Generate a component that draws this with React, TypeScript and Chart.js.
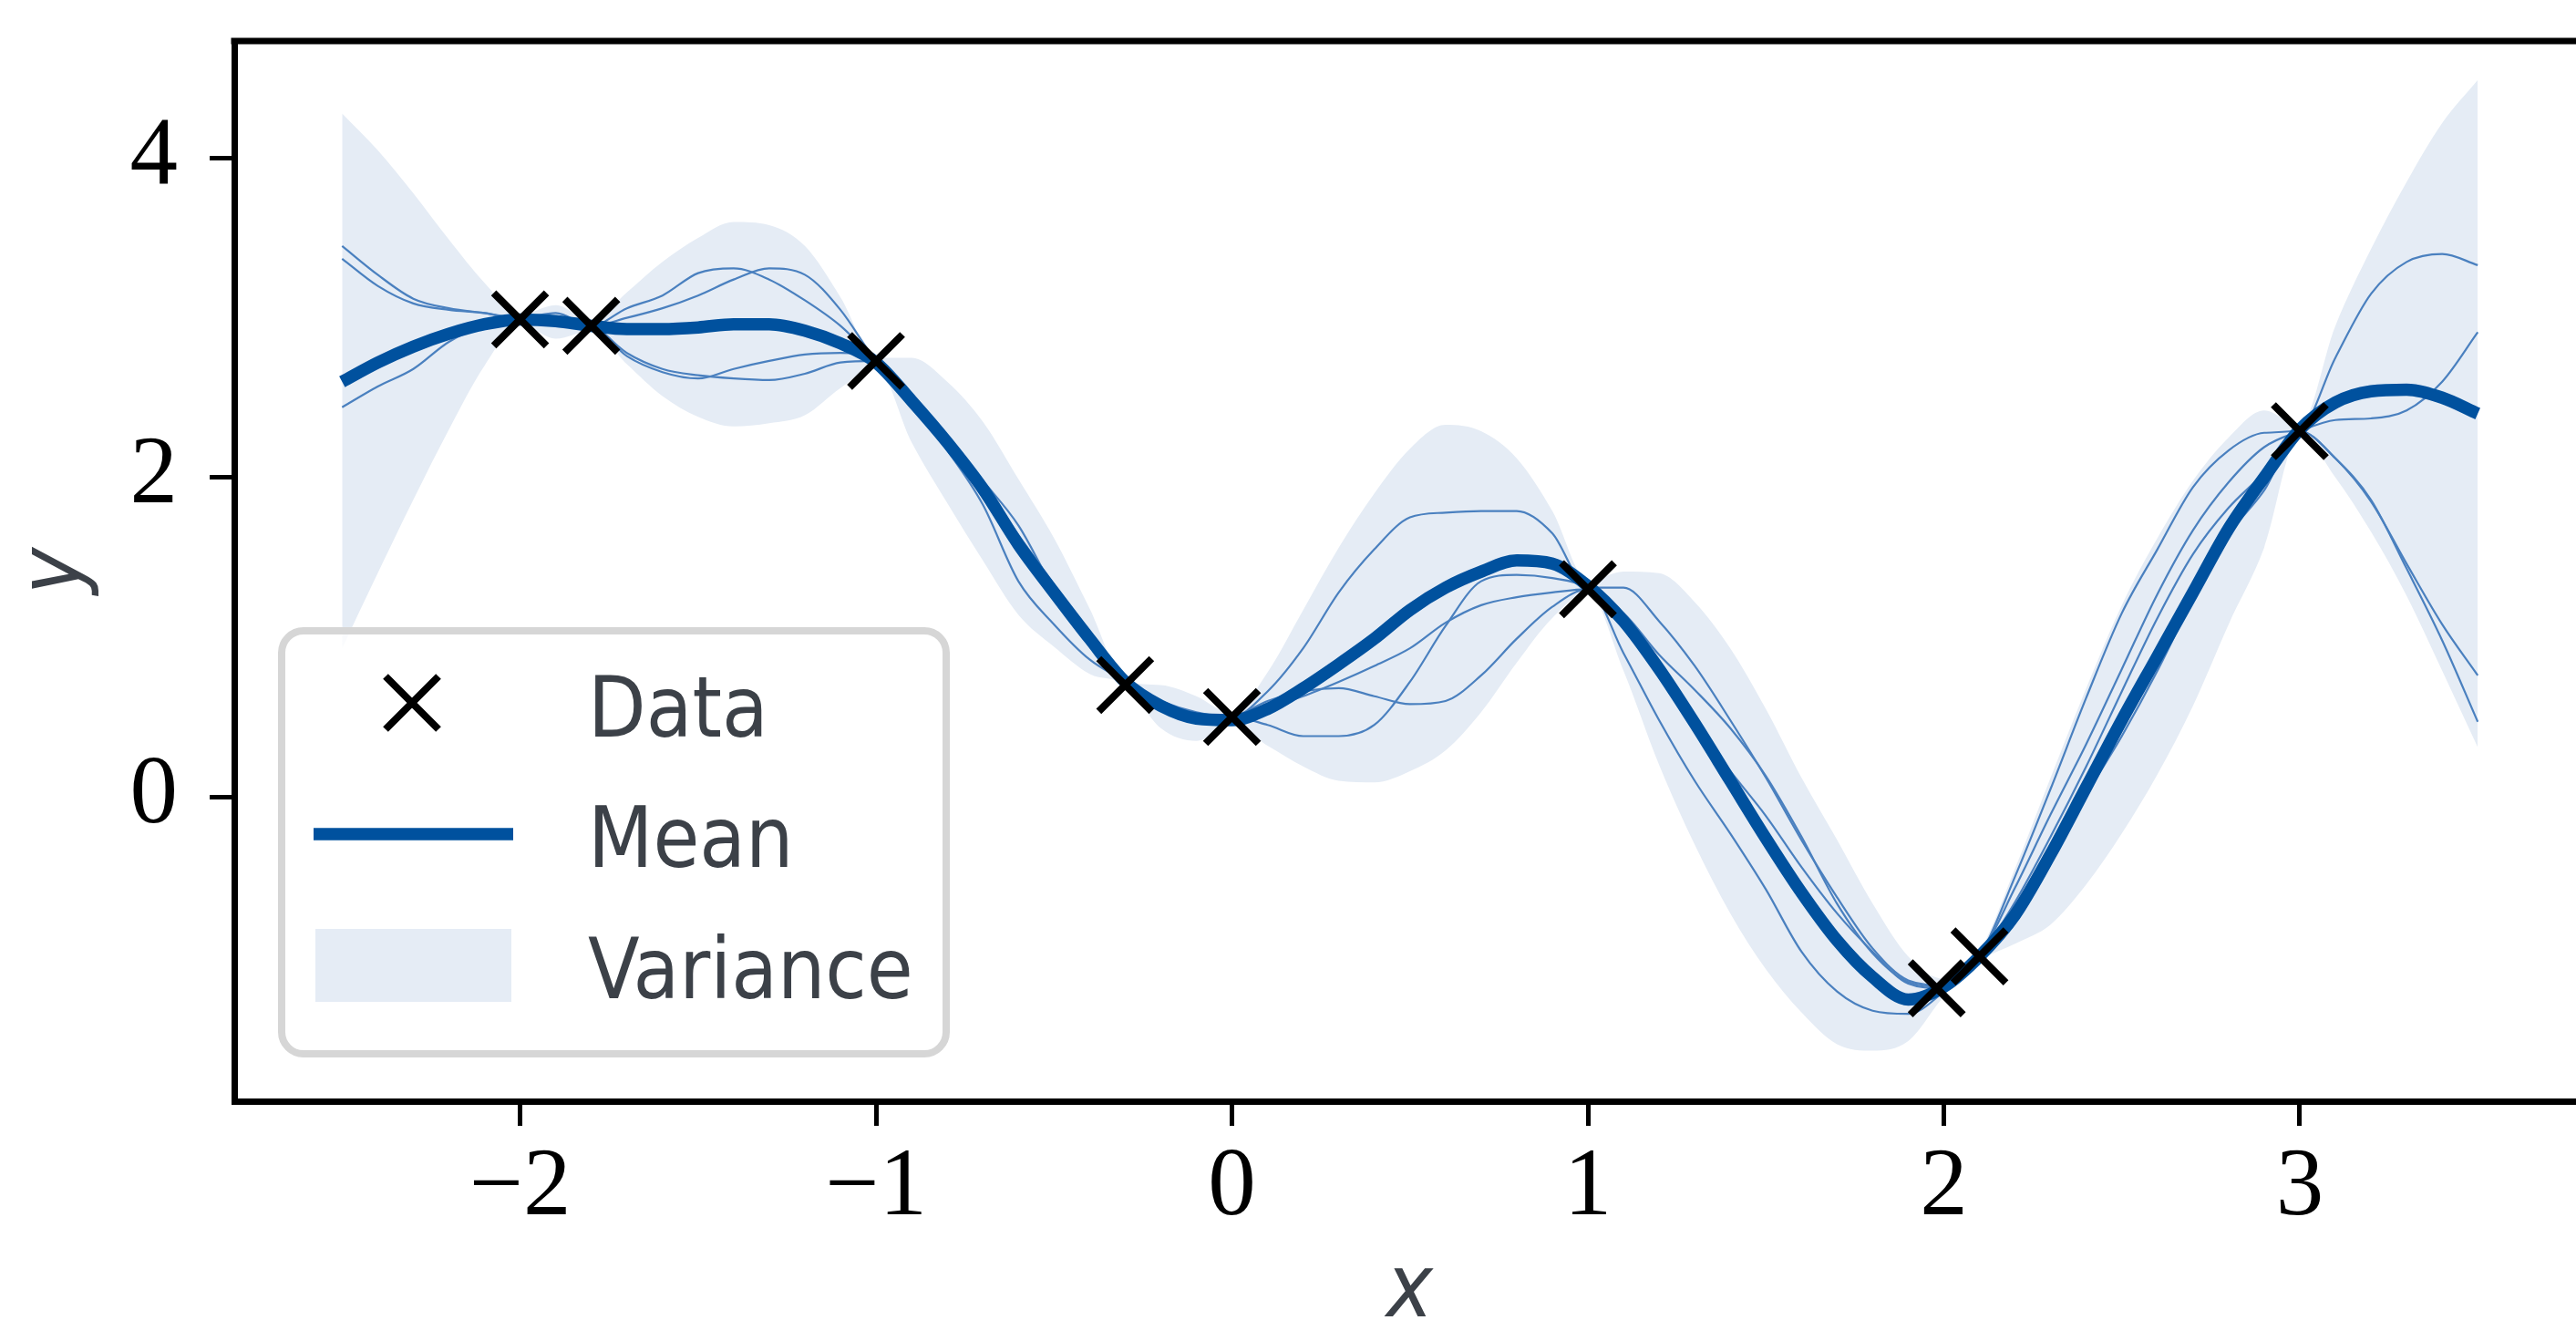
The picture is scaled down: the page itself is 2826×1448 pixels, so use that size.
import React, { useEffect, useRef } from 'react';
import { Chart, registerables } from 'chart.js';

Chart.register(...registerables);

// ---------------- data ----------------
const XS = [
  -2.5, -2.4, -2.3, -2.2, -2.1, -2.0, -1.9, -1.8, -1.7, -1.6, -1.5, -1.4, -1.3, -1.2, -1.1, -1.0,
  -0.9, -0.8, -0.7, -0.6, -0.5, -0.4, -0.3, -0.2, -0.1, 0.0, 0.1, 0.2, 0.3, 0.4, 0.5, 0.6, 0.7,
  0.8, 0.9, 1.0, 1.1, 1.2, 1.3, 1.4, 1.5, 1.6, 1.7, 1.8, 1.9, 2.0, 2.1, 2.2, 2.3, 2.4, 2.5, 2.6,
  2.7, 2.8, 2.9, 3.0, 3.1, 3.2, 3.3, 3.4, 3.5,
];

const MEAN = [
  2.60, 2.72, 2.82, 2.90, 2.96, 2.99, 2.98, 2.95, 2.93, 2.93, 2.94, 2.96, 2.96, 2.92, 2.84, 2.72,
  2.48, 2.22, 1.93, 1.58, 1.28, 0.99, 0.72, 0.57, 0.49, 0.48, 0.55, 0.68, 0.83, 0.99, 1.17, 1.31, 1.41,
  1.48, 1.46, 1.32, 1.10, 0.80, 0.46, 0.10, -0.26, -0.60, -0.90, -1.13, -1.27, -1.19, -1.00, -0.74, -0.36, 0.06, 0.48, 0.88,
  1.28, 1.68, 2.00, 2.30, 2.47, 2.54, 2.55, 2.50, 2.40,
];

const UPPER = [
  4.28, 4.05, 3.78, 3.49, 3.22, 3.02, 3.08, 2.98, 3.16, 3.35, 3.50, 3.60, 3.58, 3.45, 3.13, 2.75,
  2.75, 2.60, 2.35, 1.99, 1.62, 1.18, 0.73, 0.70, 0.63, 0.52, 0.78, 1.17, 1.56, 1.90, 2.18, 2.33, 2.29,
  2.12, 1.79, 1.35, 1.41, 1.40, 1.22, 0.93, 0.55, 0.12, -0.27, -0.67, -1.00, -1.14, -0.97, -0.45, 0.12, 0.68, 1.20, 1.62,
  1.98, 2.25, 2.42, 2.32, 2.95, 3.43, 3.85, 4.22, 4.49,
];

const LOWER = [
  0.93, 1.40, 1.86, 2.30, 2.70, 2.96, 2.87, 2.92, 2.71, 2.51, 2.38, 2.32, 2.34, 2.39, 2.56, 2.69,
  2.22, 1.84, 1.48, 1.14, 0.94, 0.77, 0.70, 0.43, 0.35, 0.45, 0.32, 0.19, 0.10, 0.09, 0.16, 0.29, 0.53,
  0.84, 1.12, 1.28, 0.79, 0.20, -0.30, -0.73, -1.08, -1.35, -1.55, -1.59, -1.53, -1.25, -1.03, -0.92, -0.80, -0.55, -0.23, 0.14,
  0.57, 1.08, 1.56, 2.27, 2.00, 1.66, 1.26, 0.79, 0.31,
];

const SAMPLE_1 = [
  3.45, 3.27, 3.12, 3.06, 3.03, 3.00, 3.03, 2.95, 3.06, 3.14, 3.28, 3.31, 3.24, 3.11, 2.95, 2.73,
  2.52, 2.25, 1.98, 1.70, 1.30, 0.98, 0.71, 0.60, 0.53, 0.50, 0.66, 0.93, 1.28, 1.55, 1.75, 1.78, 1.79,
  1.79, 1.65, 1.31, 1.31, 1.10, 0.82, 0.48, 0.12, -0.27, -0.63, -0.95, -1.15, -1.18, -1.00, -0.50, 0.05, 0.62, 1.15, 1.55,
  1.94, 2.17, 2.28, 2.30, 2.75, 3.15, 3.35, 3.40, 3.33,
];

const SAMPLE_2 = [
  3.37, 3.20, 3.09, 3.05, 3.03, 2.99, 2.99, 2.95, 3.00, 3.06, 3.14, 3.24, 3.31, 3.27, 3.05, 2.73,
  2.50, 2.22, 1.96, 1.64, 1.33, 1.00, 0.71, 0.58, 0.52, 0.50, 0.56, 0.63, 0.72, 0.82, 0.93, 1.09, 1.20,
  1.25, 1.28, 1.30, 1.15, 0.89, 0.67, 0.43, 0.13, -0.25, -0.67, -0.98, -1.16, -1.19, -1.00, -0.57, -0.11, 0.33, 0.80, 1.27,
  1.67, 1.97, 2.19, 2.29, 2.36, 2.37, 2.42, 2.60, 2.91,
];

const SAMPLE_3 = [
  2.44, 2.57, 2.68, 2.85, 2.95, 2.99, 2.96, 2.95, 2.76, 2.66, 2.62, 2.68, 2.73, 2.77, 2.78, 2.73,
  2.46, 2.17, 1.83, 1.35, 1.08, 0.86, 0.72, 0.56, 0.50, 0.50, 0.45, 0.38, 0.38, 0.45, 0.72, 1.07, 1.35,
  1.39, 1.37, 1.31, 1.12, 0.82, 0.45, 0.16, -0.12, -0.44, -0.73, -0.97, -1.17, -1.20, -1.00, -0.66, -0.25, 0.19, 0.66, 1.12,
  1.52, 1.81, 2.03, 2.29, 2.12, 1.85, 1.46, 1.08, 0.76,
];

const SAMPLE_4 = [
  2.61, 2.73, 2.83, 2.91, 2.96, 2.99, 2.97, 2.95, 2.78, 2.68, 2.64, 2.62, 2.61, 2.65, 2.72, 2.73,
  2.47, 2.20, 1.91, 1.57, 1.27, 0.98, 0.71, 0.57, 0.49, 0.50, 0.60, 0.66, 0.68, 0.63, 0.58, 0.60, 0.76,
  0.99, 1.19, 1.30, 0.90, 0.48, 0.10, -0.23, -0.58, -0.97, -1.22, -1.34, -1.36, -1.22, -1.00, -0.78, -0.42, 0.01, 0.38, 0.79,
  1.24, 1.64, 1.92, 2.29, 2.12, 1.86, 1.43, 0.98, 0.47,
];

const SAMPLES = [SAMPLE_1, SAMPLE_2, SAMPLE_3, SAMPLE_4];

const DATA_X = [-2.0, -1.8, -1.0, -0.3, 0.0, 1.0, 1.98, 2.1, 3.0];
const DATA_Y = [2.99, 2.95, 2.73, 0.70, 0.50, 1.30, -1.20, -1.00, 2.29];

const X_TICKS = [-2, -1, 0, 1, 2, 3];
const X_TICK_LABELS = ['\u22122', '\u22121', '0', '1', '2', '3'];
const Y_TICKS = [0, 2, 4];
const Y_TICK_LABELS = ['0', '2', '4'];

const LEGEND_LABELS = ['Data', 'Mean', 'Variance'];
const X_LABEL = 'x';
const Y_LABEL = 'y';

// ---------------- style ----------------
const W = 2826;
const H = 1448;
const X_MIN = -2.803;
const X_MAX = 3.776;
const X_FULL_MAX = 3.8;
const Y_MIN = -1.907;
const Y_MAX = 4.734;

const MEAN_COLOR = '#00519e';
const MEAN_W = 13.5;
const CROSS_W = 8;
const SAMPLE_COLOR = '#4a80bf';
const BAND_COLOR = '#e5ecf5';
const LABEL_COLOR = '#3c4148';
const SERIF = "'Liberation Serif', 'DejaVu Serif', serif";
const SANS = "'Liberation Sans Narrow', 'DejaVu Sans Condensed', 'Lato', sans-serif";
const SPINE_W = 7;

function roundRectPath(ctx: CanvasRenderingContext2D, x: number, y: number, w: number, h: number, r: number) {
  ctx.beginPath();
  ctx.moveTo(x + r, y);
  ctx.lineTo(x + w - r, y);
  ctx.arcTo(x + w, y, x + w, y + r, r);
  ctx.lineTo(x + w, y + h - r);
  ctx.arcTo(x + w, y + h, x + w - r, y + h, r);
  ctx.lineTo(x + r, y + h);
  ctx.arcTo(x, y + h, x, y + h - r, r);
  ctx.lineTo(x, y + r);
  ctx.arcTo(x, y, x + r, y, r);
  ctx.closePath();
}

const decorPlugin = {
  id: 'decor',
  afterDraw(chart: any) {
    const { ctx, chartArea: ca, scales } = chart;
    ctx.save();

    // top spine
    ctx.strokeStyle = '#000';
    ctx.lineWidth = SPINE_W;
    ctx.beginPath();
    ctx.moveTo(ca.left - SPINE_W / 2, ca.top);
    ctx.lineTo(ca.right, ca.top);
    ctx.stroke();

    // axis labels
    ctx.fillStyle = LABEL_COLOR;
    ctx.font = `italic 96px ${SANS}`;
    ctx.textAlign = 'center';
    ctx.textBaseline = 'alphabetic';
    const fullRight = scales.x.getPixelForValue(X_FULL_MAX);
    ctx.fillText(X_LABEL, (ca.left + fullRight) / 2, ca.bottom + 236);
    ctx.save();
    ctx.translate(ca.left - 169, (ca.top + ca.bottom) / 2);
    ctx.rotate(-Math.PI / 2);
    ctx.fillText(Y_LABEL, 0, 0);
    ctx.restore();

    // legend
    const bw = 729;
    const bh = 464;
    const bx = ca.left + 52;
    const by = ca.bottom - 52 - bh;
    roundRectPath(ctx, bx, by, bw, bh, 24);
    ctx.fillStyle = 'rgba(255,255,255,0.8)';
    ctx.fill();
    ctx.strokeStyle = '#d6d6d6';
    ctx.lineWidth = 8;
    ctx.stroke();

    // Data marker
    const cx = bx + 143;
    const cy = by + 79;
    const hs = 29;
    ctx.strokeStyle = '#000';
    ctx.lineWidth = CROSS_W;
    ctx.beginPath();
    ctx.moveTo(cx - hs, cy - hs);
    ctx.lineTo(cx + hs, cy + hs);
    ctx.moveTo(cx - hs, cy + hs);
    ctx.lineTo(cx + hs, cy - hs);
    ctx.stroke();

    // Mean line
    ctx.strokeStyle = MEAN_COLOR;
    ctx.lineWidth = MEAN_W;
    ctx.lineCap = 'butt';
    ctx.beginPath();
    ctx.moveTo(bx + 35, by + 223);
    ctx.lineTo(bx + 254, by + 223);
    ctx.stroke();

    // Variance patch
    ctx.fillStyle = BAND_COLOR;
    ctx.fillRect(bx + 37, by + 327, 215, 80);

    // texts
    ctx.fillStyle = LABEL_COLOR;
    ctx.font = `92px ${SANS}`;
    ctx.textAlign = 'left';
    ctx.textBaseline = 'alphabetic';
    const baselines = [116, 259, 403];
    LEGEND_LABELS.forEach((t, i) => ctx.fillText(t, bx + 336, by + baselines[i]));

    ctx.restore();
  },
};

export default function App() {
  const ref = useRef<HTMLCanvasElement | null>(null);

  useEffect(() => {
    document.body.style.margin = '0';
    document.body.style.overflow = 'hidden';
    const canvas = ref.current;
    if (!canvas) return;

    const pts = (arr: number[]) => XS.map((x, i) => ({ x, y: arr[i] }));

    const datasets: any[] = [
      {
        type: 'scatter',
        label: LEGEND_LABELS[0],
        data: DATA_X.map((x, i) => ({ x, y: DATA_Y[i] })),
        pointStyle: 'crossRot',
        pointRadius: 41,
        pointHoverRadius: 41,
        borderColor: '#000',
        backgroundColor: 'rgba(0,0,0,0)',
        borderWidth: CROSS_W,
        showLine: false,
        order: 0,
      },
      {
        type: 'line',
        label: LEGEND_LABELS[1],
        data: pts(MEAN),
        borderColor: MEAN_COLOR,
        borderWidth: MEAN_W,
        pointRadius: 0,
        fill: false,
        cubicInterpolationMode: 'monotone',
        borderCapStyle: 'butt',
        order: 1,
      },
      ...SAMPLES.map((s, k) => ({
        type: 'line',
        label: `sample ${k + 1}`,
        data: pts(s),
        borderColor: SAMPLE_COLOR,
        borderWidth: 2.2,
        pointRadius: 0,
        fill: false,
        cubicInterpolationMode: 'monotone',
        order: 2,
      })),
      {
        type: 'line',
        label: LEGEND_LABELS[2],
        data: pts(UPPER),
        borderWidth: 0,
        borderColor: 'rgba(0,0,0,0)',
        backgroundColor: BAND_COLOR,
        pointRadius: 0,
        fill: '+1',
        cubicInterpolationMode: 'monotone',
        order: 3,
      },
      {
        type: 'line',
        label: 'lower',
        data: pts(LOWER),
        borderWidth: 0,
        borderColor: 'rgba(0,0,0,0)',
        pointRadius: 0,
        fill: false,
        cubicInterpolationMode: 'monotone',
        order: 3,
      },
    ];

    const axisCommon = {
      type: 'linear',
      grid: {
        display: true,
        drawOnChartArea: false,
        drawTicks: true,
        tickLength: 27,
        tickWidth: 5,
        tickColor: '#000',
        lineWidth: 5,
        color: '#000',
      },
      border: { display: true, color: '#000', width: SPINE_W },
    };

    const chart = new Chart(canvas, {
      type: 'line',
      data: { datasets },
      options: {
        animation: false,
        responsive: false,
        devicePixelRatio: 1,
        events: [],
        layout: { autoPadding: false, padding: { top: 45, left: 0, right: 0, bottom: 0 } },
        plugins: { legend: { display: false }, tooltip: { enabled: false } },
        scales: {
          x: {
            ...axisCommon,
            position: 'bottom',
            min: X_MIN,
            max: X_MAX,
            ticks: {
              color: '#000',
              font: { family: SERIF, size: 105 },
              padding: 6,
              maxRotation: 0,
              autoSkip: false,
              callback: (v: number) => {
                const i = X_TICKS.indexOf(Math.round(v * 1000) / 1000);
                return i >= 0 ? X_TICK_LABELS[i] : '';
              },
            },
            afterBuildTicks: (scale: any) => {
              scale.ticks = X_TICKS.map((v) => ({ value: v }));
            },
            afterFit: (scale: any) => {
              scale.height = H - 1208;
              scale.paddingLeft = 0;
              scale.paddingRight = 0;
              scale.paddingTop = 0;
              scale.paddingBottom = 0;
            },
          },
          y: {
            ...axisCommon,
            position: 'left',
            min: Y_MIN,
            max: Y_MAX,
            ticks: {
              color: '#000',
              font: { family: SERIF, size: 105 },
              padding: 35,
              autoSkip: false,
              callback: (v: number) => {
                const i = Y_TICKS.indexOf(Math.round(v * 1000) / 1000);
                return i >= 0 ? Y_TICK_LABELS[i] : '';
              },
            },
            afterBuildTicks: (scale: any) => {
              scale.ticks = Y_TICKS.map((v) => ({ value: v }));
            },
            afterFit: (scale: any) => {
              scale.width = 257;
              scale.paddingLeft = 0;
              scale.paddingRight = 0;
              scale.paddingTop = 0;
              scale.paddingBottom = 0;
            },
          },
        },
      } as any,
      plugins: [decorPlugin],
    } as any);

    return () => chart.destroy();
  }, []);

  return <canvas ref={ref} width={W} height={H} style={{ display: 'block' }} />;
}
